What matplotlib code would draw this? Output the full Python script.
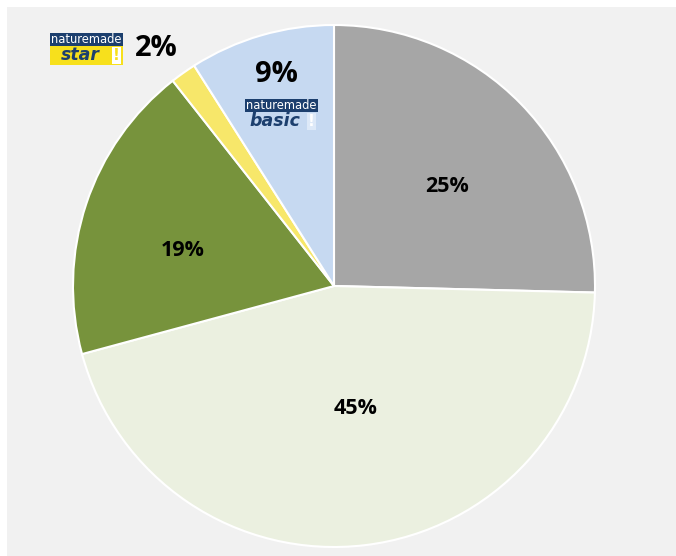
import matplotlib.pyplot as plt
from matplotlib.patches import Rectangle

# Anteile (Uhrzeigersinn ab 12 Uhr)
werte = [25.4, 45.4, 18.6, 1.6, 9.0]
beschriftung = ["25%", "45%", "19%", "2%", "9%"]
farben = ["#a6a6a6", "#ebf0e0", "#77933c", "#f7e76a", "#c6d9f1"]

W, H = 676, 556
fig = plt.figure(figsize=(W / 100, H / 100), dpi=100)
fig.patch.set_facecolor("white")
ax = fig.add_axes([0, 0, 1, 1])

# grauer Hintergrund
ax.add_patch(Rectangle((7, 0), W - 7, H - 7, facecolor="#f1f1f1", edgecolor="none", zorder=0))

cx, cy, r = 334, H - 286, 261
wedges, _ = ax.pie(werte, colors=farben, startangle=90, counterclock=False,
                   center=(cx, cy), radius=r, frame=True,
                   wedgeprops=dict(edgecolor="white", linewidth=1.5))
ax.set_xlim(0, W)
ax.set_ylim(0, H)
ax.set_aspect("equal")
ax.axis("off")

schrift = "Open Sans"
# Labels in den Segmenten
ax.text(447, H - 186, beschriftung[0], fontsize=15.5, fontweight="bold", family=schrift, ha="center", va="center")
ax.text(356, H - 409, beschriftung[1], fontsize=15.5, fontweight="bold", family=schrift, ha="center", va="center")
ax.text(183, H - 250, beschriftung[2], fontsize=15.5, fontweight="bold", family=schrift, ha="center", va="center")
ax.text(276, H - 74, beschriftung[4], fontsize=21, fontweight="bold", family=schrift, ha="center", va="center")
ax.text(156, H - 48, beschriftung[3], fontsize=21, fontweight="bold", family=schrift, ha="center", va="center")


def logo(x, y, unten, farbe_unten, farbe_ausruf, farbe_strich):
    # y = obere Kante in Pixeln
    ax.add_patch(Rectangle((x, H - y - 13), 73, 13, facecolor="#1c3f6e", edgecolor="none", zorder=5))
    ax.add_patch(Rectangle((x, H - y - 32), 73, 19, facecolor=farbe_unten, edgecolor="none", zorder=5))
    ax.add_patch(Rectangle((x + 62, H - y - 31), 9, 17, facecolor=farbe_ausruf, edgecolor="none", zorder=6))
    ax.text(x + 36.5, H - y - 6.5, "naturemade", color="white", fontsize=8.3, family="DejaVu Sans Condensed",
            ha="center", va="center", zorder=7)
    ax.text(x + 30, H - y - 22.5, unten, color="#1c3f6e", fontsize=12.5, fontweight="bold", style="italic",
            family="DejaVu Sans", ha="center", va="center", zorder=7)
    ax.text(x + 66.5, H - y - 22.5, "!", color=farbe_strich,
            fontsize=11, fontweight="bold", ha="center", va="center", zorder=7)


logo(50, 33, "star", "#f7e01c", "white", "#f7e01c")
logo(245, 99, "basic", "#c6d9f1", "#dde9f8", "white")

fig.savefig("out.png", dpi=100, facecolor=fig.get_facecolor())
